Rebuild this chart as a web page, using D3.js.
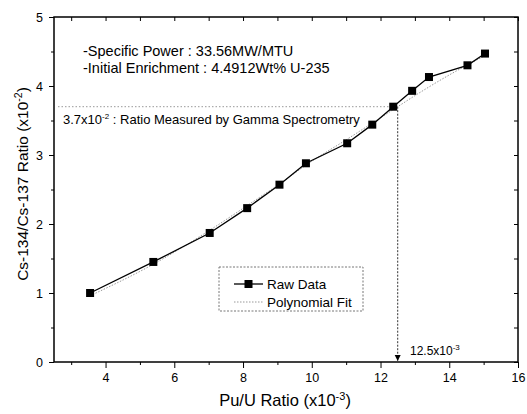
<!DOCTYPE html>
<html>
<head>
<meta charset="utf-8">
<script src="https://cdn.jsdelivr.net/npm/d3@7"></script>
<style>
  body { margin: 0; background: #fff; }
  svg { font-family: "Liberation Sans", Arial, sans-serif; }
</style>
</head>
<body>
<div id="chart"></div>
<script>
// Raw data (Pu/U x1e-3, Cs ratio x1e-2)
const puU = [3.55, 5.39, 7.03, 8.12, 9.06, 9.83, 11.03, 11.76, 12.37, 12.92, 13.41, 14.53, 15.04];
const csRatio = [1.0, 1.45, 1.87, 2.23, 2.57, 2.88, 3.17, 3.44, 3.70, 3.93, 4.13, 4.30, 4.47];

// Polynomial fit curve
const fitX = [3.55, 5.4, 7.0, 8.1, 9.0, 10.0, 11.0, 12.0, 12.5, 13.0, 14.0, 15.04];
const fitY = [0.96, 1.42, 1.90, 2.26, 2.56, 2.91, 3.22, 3.54, 3.70, 3.86, 4.16, 4.44];

const xTicks = [4, 6, 8, 10, 12, 14, 16];
const yTicks = [0, 1, 2, 3, 4, 5];

const measuredRatio = 3.7;
const measuredPuU = 12.5;

const width = 527, height = 414;
const margin = { top: 17, right: 9, bottom: 52, left: 54 };

const svg = d3.select("#chart").append("svg")
  .attr("width", width)
  .attr("height", height);

const x = d3.scaleLinear().domain([2.5, 16]).range([margin.left, width - margin.right]);
const y = d3.scaleLinear().domain([0, 5]).range([height - margin.bottom, margin.top]);

const x0 = x.range()[0], x1 = x.range()[1];
const y0 = y.range()[0], y1 = y.range()[1];

// Axes: outward ticks bottom/left, inward ticks top/right
const xMinor = d3.range(3, 16, 2);
const yMinor = d3.range(0.5, 5, 1);

svg.append("g")
  .attr("transform", `translate(0,${y0})`)
  .call(d3.axisBottom(x).tickValues(xTicks).tickSize(6).tickPadding(5).tickFormat(d3.format("d")))
  .call(g => g.select(".domain").remove())
  .call(g => g.selectAll("text").attr("font-size", 12.5).attr("fill", "#000"));

svg.append("g")
  .attr("transform", `translate(0,${y0})`)
  .call(d3.axisBottom(x).tickValues(xMinor).tickSize(3).tickFormat(""))
  .call(g => g.select(".domain").remove());

svg.append("g")
  .attr("transform", `translate(${x0},0)`)
  .call(d3.axisLeft(y).tickValues(yTicks).tickSize(5).tickPadding(6).tickFormat(d3.format("d")))
  .call(g => g.select(".domain").remove())
  .call(g => g.selectAll("text").attr("font-size", 12.5).attr("fill", "#000"));

svg.append("g")
  .attr("transform", `translate(${x0},0)`)
  .call(d3.axisLeft(y).tickValues(yMinor).tickSize(3).tickFormat(""))
  .call(g => g.select(".domain").remove());

svg.append("g")
  .attr("transform", `translate(0,${y1})`)
  .call(d3.axisBottom(x).tickValues(xTicks.concat(xMinor)).tickSize(4).tickFormat(""))
  .call(g => g.select(".domain").remove());

svg.append("g")
  .attr("transform", `translate(${x1},0)`)
  .call(d3.axisRight(y).tickValues(yTicks.concat(yMinor)).tickSize(-4).tickFormat(""))
  .call(g => g.select(".domain").remove());

// Frame
svg.append("rect")
  .attr("x", x0).attr("y", y1)
  .attr("width", x1 - x0).attr("height", y0 - y1)
  .attr("fill", "none").attr("stroke", "#000").attr("stroke-width", 1.5);

// Measured ratio guide lines
svg.append("defs").append("marker")
  .attr("id", "arrow")
  .attr("viewBox", "0 0 10 10")
  .attr("refX", 10).attr("refY", 5)
  .attr("markerWidth", 6).attr("markerHeight", 8)
  .attr("markerUnits", "userSpaceOnUse")
  .attr("orient", "auto")
  .append("path").attr("d", "M0,0L10,5L0,10Z").attr("fill", "#000");

svg.append("line")
  .attr("x1", x0 + 4).attr("x2", x(measuredPuU))
  .attr("y1", y(measuredRatio)).attr("y2", y(measuredRatio))
  .attr("stroke", "#999").attr("stroke-width", 1).attr("stroke-dasharray", "1.5,2");

svg.append("line")
  .attr("x1", x(measuredPuU)).attr("x2", x(measuredPuU))
  .attr("y1", y(measuredRatio)).attr("y2", y0 - 1)
  .attr("stroke", "#333").attr("stroke-width", 1).attr("stroke-dasharray", "2,1.5")
  .attr("marker-end", "url(#arrow)");

// Fit curve
const fitLine = d3.line()
  .x((d, i) => x(fitX[i]))
  .y((d, i) => y(fitY[i]))
  .curve(d3.curveMonotoneX);

svg.append("path")
  .datum(fitX)
  .attr("d", fitLine)
  .attr("fill", "none")
  .attr("stroke", "#999")
  .attr("stroke-width", 1)
  .attr("stroke-dasharray", "1.5,1.5");

// Raw data line + markers
const rawLine = d3.line()
  .x((d, i) => x(puU[i]))
  .y((d, i) => y(csRatio[i]));

svg.append("path")
  .datum(puU)
  .attr("d", rawLine)
  .attr("fill", "none")
  .attr("stroke", "#000")
  .attr("stroke-width", 1.3);

const ms = 8;
svg.append("g").selectAll("rect")
  .data(puU)
  .join("rect")
  .attr("x", (d) => x(d) - ms / 2)
  .attr("y", (d, i) => y(csRatio[i]) - ms / 2)
  .attr("width", ms)
  .attr("height", ms)
  .attr("fill", "#000");

// Annotations
const note = svg.append("g").attr("font-size", 14.5).attr("fill", "#000");
note.append("text").attr("x", 83).attr("y", 56).text("-Specific Power : 33.56MW/MTU");
note.append("text").attr("x", 83).attr("y", 73).text("-Initial Enrichment : 4.4912Wt% U-235");

const measText = svg.append("text")
  .attr("x", 63).attr("y", 124)
  .attr("font-size", 13).attr("fill", "#000");
measText.append("tspan").text("3.7x10");
measText.append("tspan").attr("dy", -5).attr("font-size", 8).text("-2");
measText.append("tspan").attr("dy", 5).text(" : Ratio Measured by Gamma Spectrometry");

const puText = svg.append("text")
  .attr("x", 410).attr("y", 355)
  .attr("font-size", 12).attr("fill", "#000");
puText.append("tspan").text("12.5x10");
puText.append("tspan").attr("dy", -5).attr("font-size", 8).text("-3");

// Legend
const lg = svg.append("g").attr("transform", "translate(219,267)");
lg.append("rect")
  .attr("width", 144).attr("height", 44)
  .attr("fill", "#fff")
  .attr("stroke", "#777").attr("stroke-width", 1).attr("stroke-dasharray", "2,1.5");
lg.append("line")
  .attr("x1", 15).attr("x2", 44).attr("y1", 17).attr("y2", 17)
  .attr("stroke", "#000").attr("stroke-width", 1.3);
lg.append("rect").attr("x", 25.5).attr("y", 13).attr("width", 8).attr("height", 8).attr("fill", "#000");
lg.append("line")
  .attr("x1", 15).attr("x2", 44).attr("y1", 35).attr("y2", 35)
  .attr("stroke", "#999").attr("stroke-width", 1).attr("stroke-dasharray", "1.5,1.5");
lg.append("text").attr("x", 48).attr("y", 22).attr("font-size", 13.5).text("Raw Data");
lg.append("text").attr("x", 48).attr("y", 40).attr("font-size", 13.5).text("Polynomial Fit");

// Axis titles
const xt = svg.append("text")
  .attr("x", 285).attr("y", 406)
  .attr("text-anchor", "middle").attr("font-size", 16.5);
xt.append("tspan").text("Pu/U Ratio (x10");
xt.append("tspan").attr("dy", -6).attr("font-size", 11).text("-3");
xt.append("tspan").attr("dy", 6).text(")");

const yt = svg.append("text")
  .attr("transform", "translate(28,184) rotate(-90)")
  .attr("text-anchor", "middle").attr("font-size", 15.5);
yt.append("tspan").text("Cs-134/Cs-137 Ratio (x10");
yt.append("tspan").attr("dy", -6).attr("font-size", 10.5).text("-2");
yt.append("tspan").attr("dy", 6).text(")");
</script>
</body>
</html>
